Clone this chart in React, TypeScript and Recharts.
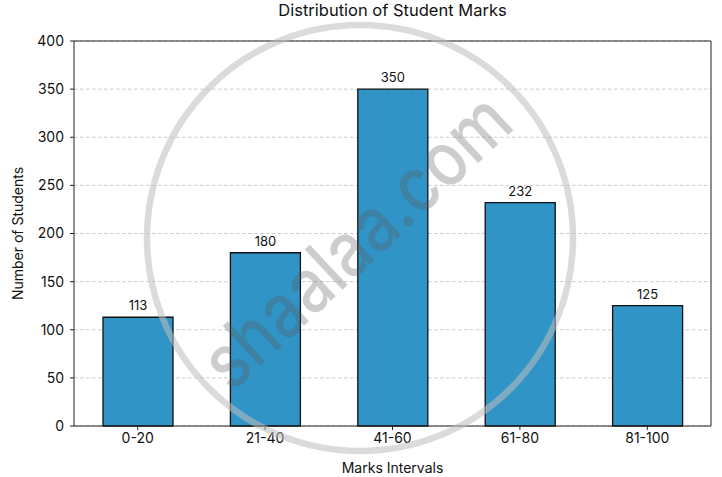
import React from "react";
import {
  BarChart,
  Bar,
  XAxis,
  YAxis,
  CartesianGrid,
  LabelList,
  Label,
} from "recharts";

const categories = ["0-20", "21-40", "41-60", "61-80", "81-100"];
const students = [113, 180, 350, 232, 125];
const yTicks = [0, 50, 100, 150, 200, 250, 300, 350, 400];

const data = categories.map((c, i) => ({ label: c, value: students[i] }));

const FONT = "Inter, 'Noto Sans', sans-serif";
const AXIS = "#222222";

export default function App() {
  return (
    <div
      style={{
        position: "absolute",
        left: 0,
        top: 0,
        width: 722,
        height: 477,
        background: "#ffffff",
        fontFamily: FONT,
      }}
    >
      <div
        style={{
          position: "absolute",
          left: 74,
          width: 637,
          top: 0,
          textAlign: "center",
          fontSize: 16.5,
          color: "#111",
          fontFamily: FONT,
        }}
      >
        Distribution of Student Marks
      </div>
      <BarChart
        width={722}
        height={477}
        data={data}
        margin={{ top: 40, right: 10, bottom: 0, left: 0 }}
        style={{ position: "absolute", left: 0, top: 0 }}
      >
        <CartesianGrid
          vertical={false}
          stroke="#cccccc"
          strokeDasharray="3.5 2.5"
        />
        <XAxis
          dataKey="label"
          height={51}
          tickSize={4}
          tickMargin={3}
          stroke={AXIS}
          tick={{ fill: "#111", fontSize: 14, fontFamily: FONT }}
          interval={0}
        >
          <Label
            value="Marks Intervals"
            position="insideBottom"
            offset={4}
            style={{ fill: "#111", fontSize: 14, fontFamily: FONT }}
          />
        </XAxis>
        <XAxis
          xAxisId="top"
          dataKey="label"
          orientation="top"
          height={1}
          tick={false}
          tickLine={false}
          stroke={AXIS}
        />
        <YAxis
          domain={[0, 400]}
          ticks={yTicks}
          width={74}
          tickSize={4}
          tickMargin={6}
          stroke={AXIS}
          tick={{ fill: "#111", fontSize: 14, fontFamily: FONT }}
          interval={0}
        >
          <Label
            value="Number of Students"
            angle={-90}
            position="insideLeft"
            offset={18}
            style={{
              fill: "#111",
              fontSize: 14,
              fontFamily: FONT,
              textAnchor: "middle",
            }}
          />
        </YAxis>
        <YAxis
          yAxisId="right"
          orientation="right"
          domain={[0, 400]}
          width={1}
          tick={false}
          tickLine={false}
          stroke={AXIS}
        />
        <Bar
          xAxisId="top"
          yAxisId="right"
          dataKey="value"
          fill="none"
          stroke="none"
          barSize={70}
          isAnimationActive={false}
        />
        <Bar
          dataKey="value"
          fill="#3194c6"
          stroke="#111111"
          strokeWidth={1.3}
          barSize={70}
          isAnimationActive={false}
        >
          <LabelList
            dataKey="value"
            position="top"
            offset={7}
            style={{ fill: "#111", fontSize: 13, fontFamily: FONT }}
          />
        </Bar>
      </BarChart>
      <svg
        width={722}
        height={477}
        style={{ position: "absolute", left: 0, top: 0, pointerEvents: "none" }}
      >
        <circle
          cx={360}
          cy={238}
          r={213}
          fill="none"
          stroke="rgba(190,190,190,0.55)"
          strokeWidth={6.5}
        />
        <text
          x={360}
          y={245}
          transform="rotate(-43 360 245)"
          textAnchor="middle"
          dominantBaseline="middle"
          fontSize={76}
          fontWeight={500}
          fontFamily={FONT}
          fill="rgba(90,90,90,0.3)"
          textLength={390}
          lengthAdjust="spacingAndGlyphs"
        >
          shaalaa.com
        </text>
      </svg>
    </div>
  );
}
